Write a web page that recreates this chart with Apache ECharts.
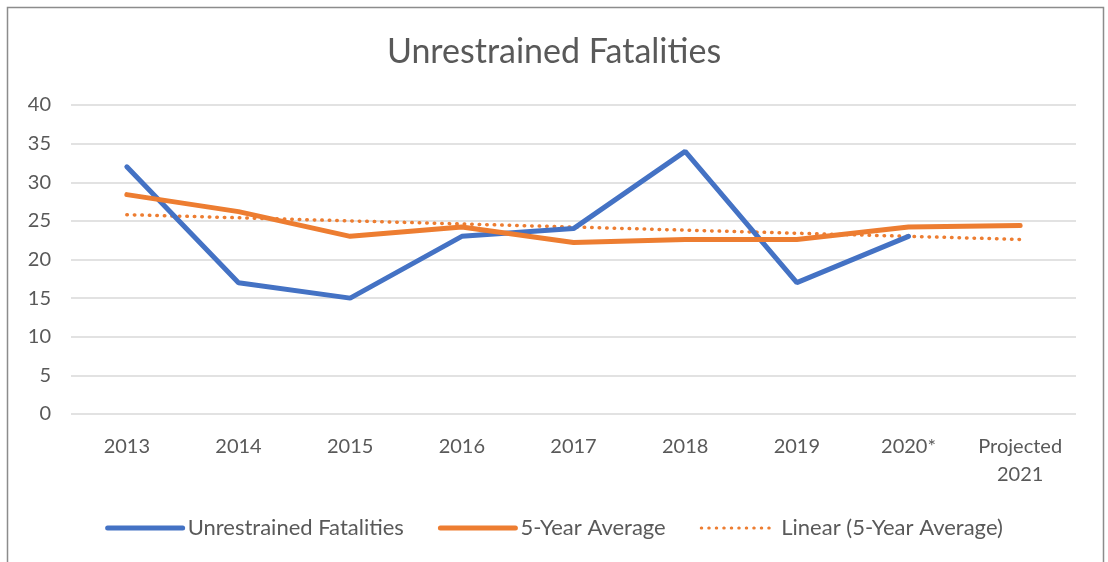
<!DOCTYPE html>
<html>
<head>
<meta charset="utf-8">
<title>Unrestrained Fatalities</title>
<script src="https://cdn.jsdelivr.net/npm/echarts@6/dist/echarts.min.js"></script>
<style>
  html, body { margin: 0; padding: 0; background: #fff; }
  #charts { width: 1108px; height: 562px; }
</style>
</head>
<body>
<div id="charts"></div>
<script>
var years = ['2013', '2014', '2015', '2016', '2017', '2018', '2019', '2020*', 'Projected\n2021'];
var fatalities = [32, 17, 15, 23, 24, 34, 17, 23, null];
var fiveYearAvg = [28.4, 26.2, 23, 24.2, 22.2, 22.6, 22.6, 24.2, 24.4];
var linearTrend = [25.8, 25.4, 25.0, 24.6, 24.2, 23.8, 23.4, 23.0, 22.6];
var yTicks = [0, 5, 10, 15, 20, 25, 30, 35, 40];

var textColor = '#595959';
var fontName = 'Lato, "Open Sans", sans-serif';
var dotted = [0.5, 7];

var myChart = echarts.init(document.getElementById('charts'));
var option = {
    animation: false,
    title: {
        text: 'Unrestrained Fatalities',
        left: 'center',
        top: 30,
        textStyle: { color: textColor, fontSize: 34, fontWeight: 'normal', fontFamily: fontName }
    },
    graphic: [{
        type: 'rect',
        shape: { x: 7.5, y: 7.5, width: 1096, height: 570 },
        style: { fill: 'none', stroke: '#8c8c8c', lineWidth: 1.5 },
        silent: true
    }],
    legend: {
        data: [
            { name: 'Unrestrained Fatalities', lineStyle: { width: 5 } },
            { name: '5-Year Average', lineStyle: { width: 5 } },
            { name: 'Linear (5-Year Average)', lineStyle: { width: 3, type: dotted } }
        ],
        left: 'center',
        top: 512,
        itemWidth: 75,
        itemHeight: 6,
        itemGap: 34,
        itemStyle: { opacity: 0 },
        textStyle: { color: textColor, fontSize: 22, fontFamily: fontName }
    },
    grid: { left: 71, right: 32, top: 105, bottom: 148 },
    xAxis: {
        type: 'category',
        data: years,
        boundaryGap: true,
        axisLine: { show: false },
        axisTick: { show: false },
        axisLabel: { color: textColor, fontSize: 20, fontFamily: fontName, margin: 19, lineHeight: 28, interval: 0 }
    },
    yAxis: {
        type: 'value',
        min: yTicks[0],
        max: yTicks[yTicks.length - 1],
        interval: 5,
        axisLine: { show: false },
        axisTick: { show: false },
        axisLabel: { color: textColor, fontSize: 20, fontFamily: fontName, margin: 20 },
        splitLine: { lineStyle: { color: '#d9d9d9', width: 1.5 } }
    },
    series: [
        {
            name: 'Unrestrained Fatalities',
            type: 'line',
            data: fatalities,
            symbol: 'none',
            color: '#4472C4',
            lineStyle: { width: 5, color: '#4472C4', cap: 'round' },
            z: 3
        },
        {
            name: '5-Year Average',
            type: 'line',
            data: fiveYearAvg,
            symbol: 'none',
            color: '#ED7D31',
            lineStyle: { width: 5, color: '#ED7D31', cap: 'round' },
            z: 4
        },
        {
            name: 'Linear (5-Year Average)',
            type: 'line',
            data: linearTrend,
            symbol: 'none',
            color: '#ED7D31',
            lineStyle: { width: 3.5, color: '#ED7D31', type: dotted, cap: 'round' },
            z: 2
        }
    ]
};

myChart.setOption(option);
</script>
</body>
</html>
